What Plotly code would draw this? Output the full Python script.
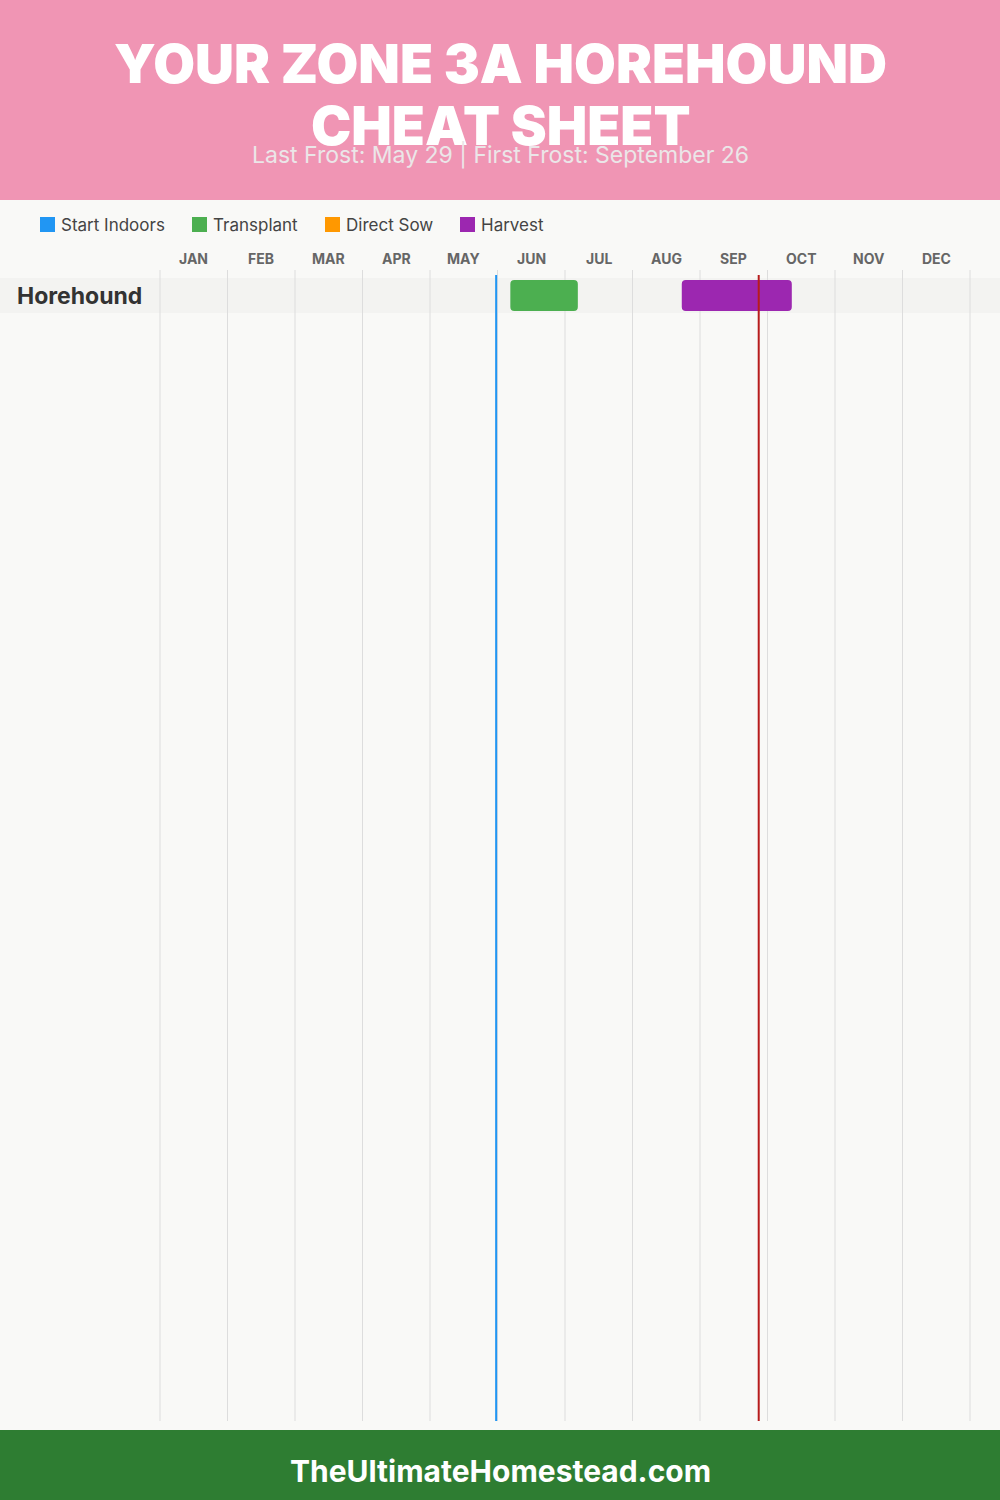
import plotly.graph_objects as go

# ---------------- data ----------------
MONTHS = ["JAN", "FEB", "MAR", "APR", "MAY", "JUN", "JUL", "AUG", "SEP", "OCT", "NOV", "DEC"]
CROPS = ["Horehound"]
LEGEND_ITEMS = ["Start Indoors", "Transplant", "Direct Sow", "Harvest"]
# positions in month units (0 = Jan 1, 12 = Dec 31)
TRANSPLANT_START = [5.19]
TRANSPLANT_END = [6.19]
HARVEST_START = [7.73]
HARVEST_END = [9.36]
LAST_FROST = 4.98
FIRST_FROST = 8.87

TITLE_LINES = ["YOUR ZONE 3A HOREHOUND", "CHEAT SHEET"]
SUBTITLE = "Last Frost: May 29 | First Frost: September 26"
FOOTER = "TheUltimateHomestead.com"

COLORS = {"Start Indoors": "#2196F3", "Transplant": "#4CAF50",
          "Direct Sow": "#FF9800", "Harvest": "#9C27B0"}

W, H = 1000, 1500
def py(px):  # pixel-from-top -> paper y
    return 1 - px / H
def pxx(px):
    return px / W

fig = go.Figure()

fig.add_trace(go.Bar(
    y=CROPS, x=[e - s for s, e in zip(TRANSPLANT_START, TRANSPLANT_END)],
    base=TRANSPLANT_START, orientation="h", width=0.88,
    marker=dict(color=COLORS["Transplant"], line=dict(width=0)),
    name="Transplant", showlegend=False, hoverinfo="skip"))
fig.add_trace(go.Bar(
    y=CROPS, x=[e - s for s, e in zip(HARVEST_START, HARVEST_END)],
    base=HARVEST_START, orientation="h", width=0.88,
    marker=dict(color=COLORS["Harvest"], line=dict(width=0)),
    name="Harvest", showlegend=False, hoverinfo="skip"))

shapes = []
annotations = []

# header & footer
shapes.append(dict(type="rect", xref="paper", yref="paper", x0=0, x1=1, y0=py(200), y1=1,
                   fillcolor="#F095B4", line=dict(width=0), layer="below"))
shapes.append(dict(type="rect", xref="paper", yref="paper", x0=0, x1=1, y0=0, y1=py(1430),
                   fillcolor="#2E7D32", line=dict(width=0), layer="below"))

# row bands
for i, c in enumerate(CROPS):
    shapes.append(dict(type="rect", xref="paper", yref="y", x0=0, x1=1, y0=i - 0.5, y1=i + 0.5,
                       fillcolor="#F3F3F1", line=dict(width=0), layer="below"))

# month grid lines
for m in range(len(MONTHS) + 1):
    shapes.append(dict(type="line", xref="x", yref="paper", x0=m, x1=m, y0=py(1421), y1=py(270),
                       line=dict(color="#DDDDDD", width=1), layer="below"))

# frost lines
shapes.append(dict(type="line", xref="x", yref="paper", x0=LAST_FROST, x1=LAST_FROST,
                   y0=py(1421), y1=py(275), line=dict(color="#2196F3", width=2)))
shapes.append(dict(type="line", xref="x", yref="paper", x0=FIRST_FROST, x1=FIRST_FROST,
                   y0=py(1421), y1=py(275), line=dict(color="#B71C1C", width=2)))

# month labels
for m, lab in enumerate(MONTHS):
    annotations.append(dict(x=m + 0.5, y=py(259), xref="x", yref="paper", text=lab,
                            showarrow=False, xanchor="center", yanchor="middle",
                            font=dict(family="Inter", size=14, color="#666666", weight=700)))

# crop labels
for i, c in enumerate(CROPS):
    annotations.append(dict(x=pxx(15), y=i, xref="paper", yref="y", text=c, showarrow=False,
                            xanchor="left", yanchor="middle",
                            font=dict(family="Inter", size=23, color="#333333", weight=700)))

# legend
leg_x = [40, 192, 325, 460]
for lx, name in zip(leg_x, LEGEND_ITEMS):
    shapes.append(dict(type="rect", xref="paper", yref="paper", x0=pxx(lx), x1=pxx(lx + 15),
                       y0=py(232), y1=py(217), fillcolor=COLORS[name], line=dict(width=0)))
    annotations.append(dict(x=pxx(lx + 19), y=py(225), xref="paper", yref="paper", text=name,
                            showarrow=False, xanchor="left", yanchor="middle",
                            font=dict(family="Inter", size=17, color="#444444")))

# title (two lines), subtitle, footer
for line_txt, ypx in zip(TITLE_LINES, [63, 126]):
    annotations.append(dict(x=0.5, y=py(ypx), xref="paper", yref="paper", text=line_txt,
                            showarrow=False, xanchor="center", yanchor="middle",
                            font=dict(family="Inter", size=54, color="white", weight=900)))
annotations.append(dict(x=0.5, y=py(155), xref="paper", yref="paper", text=SUBTITLE, showarrow=False,
                        xanchor="center", yanchor="middle",
                        font=dict(family="Inter", size=23, color="#EBE6E8")))
annotations.append(dict(x=0.5, y=py(1471), xref="paper", yref="paper", text=FOOTER, showarrow=False,
                        xanchor="center", yanchor="middle",
                        font=dict(family="Inter", size=30, color="white", weight=700)))

# axes: 0 month -> 160px, 12 months -> 970px
px_per_month = (970 - 160) / 12
x_lo = -160 / px_per_month
x_hi = 12 + (1000 - 970) / px_per_month
row_px = 35
dom_top, dom_bot = 278, 1421
n_units = (dom_bot - dom_top) / row_px

fig.update_layout(
    width=W, height=H, margin=dict(l=0, r=0, t=0, b=0),
    paper_bgcolor="#F9F9F7", plot_bgcolor="rgba(0,0,0,0)",
    barmode="overlay", barcornerradius=4,
    xaxis=dict(range=[x_lo, x_hi], domain=[0, 1], showgrid=False, zeroline=False,
               showticklabels=False, fixedrange=True),
    yaxis=dict(type="category", range=[n_units - 0.5, -0.5], domain=[py(dom_bot), py(dom_top)],
               showgrid=False, zeroline=False, showticklabels=False, fixedrange=True),
    shapes=shapes, annotations=annotations, showlegend=False,
)

fig.write_html("out.html", config={"displayModeBar": False},
               post_script="document.body.style.margin='0';document.body.style.overflow='hidden';")
